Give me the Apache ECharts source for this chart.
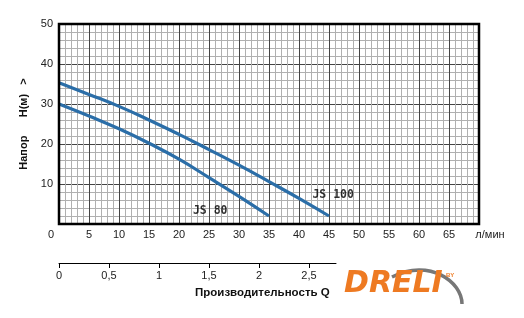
<!DOCTYPE html>
<html><head><meta charset="utf-8">
<script src="https://cdn.jsdelivr.net/npm/echarts@6/dist/echarts.min.js"></script>
<style>html,body{margin:0;padding:0;background:#fff}#c{width:524px;height:318px}</style>
</head><body><div id="c"></div>
<script>
// Flow Q (л/мин) and head H (м)
const flowJS100 = [0, 5, 10, 15, 20, 25, 30, 35, 40, 45];
const headJS100 = [35.3, 32.4, 29.4, 26.0, 22.4, 18.6, 14.7, 10.6, 6.4, 2];
const flowJS80 = [0, 5, 10, 15, 20, 25, 30, 35];
const headJS80 = [30, 27.0, 23.8, 20.2, 16.2, 11.6, 6.9, 2];
const seriesNames = ['JS 100', 'JS 80'];
const labelPosJS100 = [45.7, 7.2];   // data coords of the "JS 100" label
const labelPosJS80 = [25.2, 3.2];    // data coords of the "JS 80" label
const yAxisTitle = 'Напор      H(м)   >';
const xUnit = 'л/мин';
const q2Title = 'Производительность Q';
const brand = 'DRELI';

const font = 'Liberation Sans';
const chart = echarts.init(document.getElementById('c'), null, {renderer: 'canvas'});
const toPairs = (xs, ys) => xs.map((x, i) => [x, ys[i]]);
const lineColor = '#2b6ea8';

chart.setOption({
  animation: false,
  grid: [
    {left: 59, top: 24, width: 420, height: 200, show: true, borderColor: '#000', borderWidth: 2.5, z: 5},
    {left: 59, top: 262, width: 277, height: 1}
  ],
  xAxis: [
    {
      gridIndex: 0, type: 'value', min: 0, max: 70, interval: 5,
      axisLine: {show: false}, axisTick: {show: false},
      splitLine: {show: true, lineStyle: {color: '#444', width: 1}},
      minorTick: {show: false, splitNumber: 5},
      minorSplitLine: {show: true, lineStyle: {color: '#b0b0b0', width: 1}},
      axisLabel: {
        margin: 5, color: '#222', fontFamily: font, fontSize: 11,
        showMaxLabel: true,
        formatter: v => v === 0 ? '{z|0}' : (v === 70 ? '{u|' + xUnit + '}' : String(v)),
        rich: {
          z: {padding: [0, 16, 0, 0], fontFamily: font, fontSize: 11, color: '#222'},
          u: {padding: [0, 0, 0, 22], fontFamily: font, fontSize: 11, color: '#222'}
        }
      }
    },
    {
      gridIndex: 1, type: 'value', min: 0, max: 2.77, interval: 0.5, position: 'bottom',
      axisLine: {show: true, onZero: false, lineStyle: {color: '#000', width: 1}},
      axisTick: {show: true, length: 5, inside: false, lineStyle: {color: '#000'}},
      splitLine: {show: false},
      axisLabel: {
        margin: 7, color: '#222', fontFamily: font, fontSize: 11, showMaxLabel: false,
        formatter: v => String(v).replace('.', ',')
      }
    }
  ],
  yAxis: [
    {
      gridIndex: 0, type: 'value', min: 0, max: 50, interval: 10,
      axisLine: {show: false}, axisTick: {show: false},
      splitLine: {show: true, lineStyle: {color: '#444', width: 1}},
      minorTick: {show: false, splitNumber: 5},
      minorSplitLine: {show: true, lineStyle: {color: '#b0b0b0', width: 1}},
      axisLabel: {margin: 6, color: '#222', fontFamily: font, fontSize: 11, showMinLabel: false},
      name: yAxisTitle, nameLocation: 'middle', nameGap: 29, nameRotate: 90,
      nameTextStyle: {fontFamily: font, fontSize: 11, fontWeight: 'bold', color: '#111'}
    },
    {gridIndex: 1, type: 'value', min: 0, max: 1, show: false}
  ],
  series: [
    {
      name: seriesNames[0], type: 'line', smooth: 0.5, symbol: 'none',
      xAxisIndex: 0, yAxisIndex: 0, z: 3,
      lineStyle: {color: lineColor, width: 3.2},
      data: toPairs(flowJS100, headJS100)
    },
    {
      name: seriesNames[1], type: 'line', smooth: 0.5, symbol: 'none',
      xAxisIndex: 0, yAxisIndex: 0, z: 3,
      lineStyle: {color: lineColor, width: 3.2},
      data: toPairs(flowJS80, headJS80)
    },
    {
      type: 'scatter', xAxisIndex: 0, yAxisIndex: 0, symbolSize: 0, z: 6,
      label: {
        show: true, position: 'inside', formatter: p => p.name,
        fontFamily: 'DejaVu Sans Mono', fontWeight: 'bold', fontSize: 11.5, color: '#000'
      },
      data: [
        {name: seriesNames[0], value: labelPosJS100},
        {name: seriesNames[1], value: labelPosJS80}
      ]
    }
  ],
  graphic: [
    {type: 'text', left: 195, top: 287, style: {text: q2Title, fontFamily: font, fontSize: 11.5, fontWeight: 'bold', fill: '#111'}},
    {type: 'bezierCurve', shape: {x1: 392, y1: 277, cpx1: 430, cpy1: 258, x2: 462, y2: 304, cpx2: 462, cpy2: 282},
      style: {stroke: '#777', lineWidth: 3.5, fill: null}},
    {type: 'text', left: 344, top: 269, style: {text: brand, fontFamily: 'DejaVu Sans', fontSize: 30, fontWeight: 'bold', fontStyle: 'italic', fill: '#ee7a22'}},
    {type: 'text', left: 446, top: 272, style: {text: 'BY', fontFamily: font, fontSize: 6, fontWeight: 'bold', fill: '#ee7a22'}}
  ]
});
</script></body></html>
